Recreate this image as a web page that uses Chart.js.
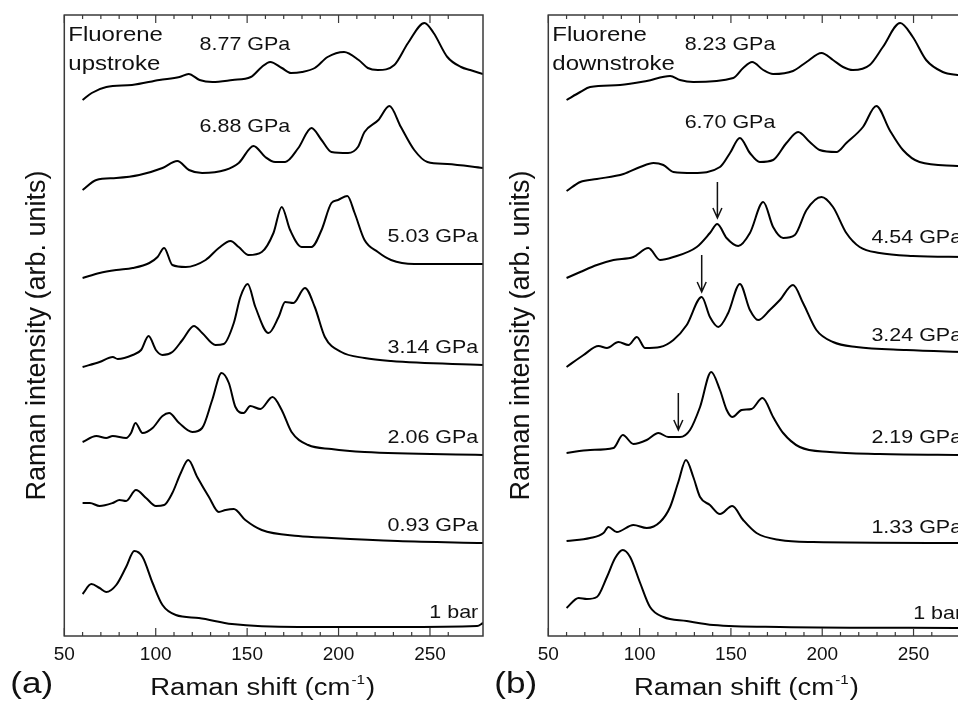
<!DOCTYPE html>
<html>
<head>
<meta charset="utf-8">
<script src="https://cdn.jsdelivr.net/npm/chart.js@4.4.1/dist/chart.umd.min.js"></script>
<style>
  html, body { margin: 0; padding: 0; background: #fff; overflow: hidden; }
  #wrap { position: relative; width: 958px; height: 702px; overflow: hidden; background: #fff; }
  #chartA { position: absolute; left: 0; top: 0; }
  #chartB { position: absolute; left: 480px; top: 0; }
</style>
</head>
<body>
<div id="wrap">
  <canvas id="chartA" width="490" height="702"></canvas>
  <canvas id="chartB" width="495" height="702"></canvas>
</div>
<script>
// ===== x axis (Raman shift, cm-1) =====
const xMin = 50, xMax = 279;
// stacked intensity (arb. units), spectra already offset
const yMin = -1, yMax = 620;

// ===== (a) upstroke spectra: [shift, stacked intensity] =====
const up877 = [[60,535],[65,542],[73,548],[87,550],[102,555],[113,558],[118,561],[124,555],[131,553],[142,555],[152,558],[158,568],[162.6,573],[169,567],[174,562],[180,563],[187,567],[194,578],[203,583],[211,575],[216,567],[221.5,565],[230.5,570],[238,592],[247,612],[252,602],[259.5,578],[267,568],[272,565],[279,561]];
const up688 = [[60,445],[67.5,455],[78.4,457],[91,460],[103.7,467],[111.8,474],[118.2,465],[125.4,462],[138,465],[145.4,472],[153.5,489],[159.9,478],[165.3,473],[170.8,473],[178,487],[185.2,507],[190.7,495],[196.1,483],[205.2,482],[210.6,488],[214.2,503],[221.8,515],[227.8,529],[234.1,508],[241.4,485],[248.6,473],[259.5,471],[279,467]];
const up503 = [[60,357],[69.3,362],[78.4,365],[87.4,367],[96.5,372],[101,378],[104.6,387],[109.1,370],[116.4,368],[127.3,375],[134.5,387],[140.9,394],[145.4,388],[150.8,380],[158,383],[164.4,402],[168.9,428],[173.5,405],[179.8,388],[185.2,388],[190.7,405],[196.1,432],[199.7,435],[204.8,439],[208.8,422],[214.2,395],[221.5,383],[228.7,375],[241.4,371],[279,371]];
const up314 = [[60,268],[69.3,273],[76.5,278],[79.2,276],[87.4,280],[92,285],[96.1,299],[100.1,285],[103.7,280],[109.1,283],[114.6,295],[120.9,309],[125.4,302],[132.7,290],[137.2,291],[142.7,312],[146.3,338],[150.3,351],[154.5,328],[161.7,302],[167.2,318],[170.8,333],[175.3,332],[181.6,347],[187,328],[192.5,298],[201.5,283],[214.2,277],[228.7,274],[279,270]];
const up206 = [[60,193],[67.5,199],[72.9,197],[76.5,199],[83.8,197],[86.5,202],[88.9,212],[92.8,202],[98.3,207],[103.7,219],[107.3,222],[112.8,212],[120,203],[125.4,207],[130.9,235],[136,262],[140,252],[143.6,228],[148.1,222],[151.7,229],[157.2,226],[163.9,238],[168.9,225],[174.3,203],[183.4,190],[196.1,186],[214.2,183],[279,180]];
const up093 = [[60,132],[64,132],[69.3,129],[76.5,132],[80.2,135],[83.8,134],[89.2,145],[94.7,137],[100.1,129],[104.6,130],[109.1,142],[113.7,162],[117.8,175],[122.7,158],[129.1,138],[134.5,123],[138.2,125],[142.7,126],[149,115],[158,105],[178,99],[196.1,97],[232.3,94],[279,92]];
const up1bar = [[60,41],[64.8,51],[69.3,47],[72.9,43],[78.4,50],[83.8,68],[88.3,84],[92.8,78],[98.3,52],[103.7,30],[111,20],[123.6,17],[141.7,11],[178,8],[232.3,8],[275.8,9],[279,12]];
const upLabels = ["8.77 GPa", "6.88 GPa", "5.03 GPa", "3.14 GPa", "2.06 GPa", "0.93 GPa", "1 bar"];

// ===== (b) downstroke spectra =====
const down823 = [[60,535],[67.5,543],[72.9,548],[89.3,550],[103.9,554],[116.7,559],[122.1,555],[129.4,553],[151.3,557],[156.7,567],[161.6,573],[167.7,565],[173.1,561],[184,564],[191.4,573],[199.6,582],[205.9,575],[211.4,568],[216.8,565],[226,570],[233.2,588],[242.7,612],[249.6,598],[256.9,575],[266,563],[274,560],[279,559]];
const down670 = [[60,444],[67.5,453],[76.6,456],[91.2,461],[100.3,468],[107.6,472],[113,470],[118.5,463],[129.4,462],[144,468],[149.5,482],[154.9,497],[160.4,482],[165.8,473],[173.1,475],[180.4,492],[186.8,503],[193.2,493],[198.6,485],[207.8,483],[213.2,492],[222.3,508],[229.6,529],[236.9,505],[244.2,485],[253.3,473],[274,469],[279,468]];
const down454 = [[60,357],[67.5,363],[76.6,370],[85.7,375],[96.6,378],[104.8,387],[111.2,375],[118.5,378],[131.3,388],[138.5,402],[142.5,411],[147.6,397],[154,389],[160.4,402],[167.7,433],[173.1,408],[178.6,397],[185,400],[191.4,425],[199.6,438],[205.9,428],[213.2,402],[220.5,388],[231.4,382],[249.6,379],[279,378]];
const down324 = [[60,268],[69.3,280],[77.5,289],[82.1,287],[88.4,293],[93.9,290],[98.5,298],[103,287],[111.2,288],[118.5,295],[125.8,310],[134,338],[138.5,318],[143.1,308],[148.5,322],[154.9,351],[160.4,325],[164.9,315],[171.3,325],[176.8,335],[184,350],[189.5,332],[196.8,305],[205.9,293],[218.7,288],[246,285],[279,283]];
const down219 = [[60,182],[72.9,185],[85.7,187],[90.8,200],[96.6,191],[103.9,195],[110.3,202],[115.7,198],[122.1,198],[127.6,205],[133.1,228],[139.2,263],[144,245],[147.7,225],[150.7,218],[155.9,225],[161.3,226],[167.3,237],[173.1,218],[178.6,202],[187.7,188],[204.1,183],[231.4,181],[279,180]];
const down133 = [[60,94],[72.9,97],[80.2,102],[82.9,108],[87.5,103],[96.6,110],[103.9,107],[111.2,113],[116.7,128],[121.2,153],[125.4,175],[129.4,158],[133.1,138],[138.5,130],[144,121],[150.7,129],[156.7,115],[164,102],[176.8,95],[195,93],[279,92]];
const down1bar = [[60,27],[66.6,37],[71.1,36],[76.6,38],[82.1,58],[86.6,77],[90.8,85],[94.8,78],[100.3,52],[105.7,28],[113,18],[125.8,14],[140.4,10],[176.8,8],[279,7]];
const downLabels = ["8.23 GPa", "6.70 GPa", "4.54 GPa", "3.24 GPa", "2.19 GPa", "1.33 GPa", "1 bar"];
// new-mode arrows (b): shift position
const arrowShifts = [142.6, 134, 121.2];

const FONT = '"Liberation Sans", Arial, sans-serif';

function drawText(ctx, s, x, y, size, align, sx) {
  ctx.save();
  ctx.font = size + "px " + FONT;
  ctx.textAlign = align;
  ctx.textBaseline = "alphabetic";
  ctx.translate(x, y);
  ctx.scale(sx, 1);
  ctx.fillText(s, 0, 0);
  ctx.restore();
}

// frame, inward ticks, titles, labels, arrows
const decor = {
  id: "decor",
  afterDraw(chart, args, o) {
    const { ctx, chartArea: a, scales: { x, y } } = chart;
    ctx.save();
    ctx.strokeStyle = "#3a3a3a";
    ctx.lineWidth = 1.5;
    ctx.strokeRect(a.left, a.top, a.right - a.left, a.bottom - a.top);

    ctx.beginPath();
    x.ticks.forEach(t => {
      const v = Math.round(t.value);
      if (Math.abs(t.value - v) > 1e-6 || v % 10 !== 0) return;
      const px = x.getPixelForValue(v);
      const len = v % 50 === 0 ? 8 : 4;
      ctx.moveTo(px, a.bottom); ctx.lineTo(px, a.bottom - len);
      ctx.moveTo(px, a.top); ctx.lineTo(px, a.top + len);
    });
    ctx.lineWidth = 1.2;
    ctx.stroke();

    ctx.fillStyle = "#111";
    // spectrum labels
    o.labels.forEach((s, i) => {
      const [vx, vy, al] = o.labelPos[i];
      drawText(ctx, s, x.getPixelForValue(vx), y.getPixelForValue(vy), 19, al, 1.13);
    });
    // sample name
    o.sample.forEach((s, i) => drawText(ctx, s, a.left + 4, a.top + 26 + i * 28.5, 20.5, "left", 1.17));

    // arrows
    ctx.strokeStyle = "#111";
    ctx.lineWidth = 1.5;
    o.arrows.forEach(([vx, y0, y1]) => {
      const px = x.getPixelForValue(vx), p0 = y.getPixelForValue(y0), p1 = y.getPixelForValue(y1);
      ctx.beginPath();
      ctx.moveTo(px, p0); ctx.lineTo(px, p1);
      ctx.moveTo(px - 4.5, p1 - 10); ctx.lineTo(px, p1); ctx.lineTo(px + 4.5, p1 - 10);
      ctx.stroke();
    });

    // y title
    ctx.save();
    ctx.translate(a.left - 19.5, (a.top + a.bottom) / 2 + 10);
    ctx.rotate(-Math.PI / 2);
    ctx.font = "27px " + FONT;
    ctx.textAlign = "center";
    ctx.fillText("Raman intensity (arb. units)", 0, 0);
    ctx.restore();

    // x title with superscript
    const sx = 1.17, base = 695;
    ctx.font = "23.5px " + FONT;
    const w1 = ctx.measureText("Raman shift (cm").width * sx;
    const w3 = ctx.measureText(")").width * sx;
    ctx.font = "13px " + FONT;
    const w2 = ctx.measureText("-1").width * sx + 2;
    let tx = (a.left + a.right) / 2 - 11 - (w1 + w2 + w3) / 2;
    drawText(ctx, "Raman shift (cm", tx, base, 23.5, "left", sx);
    drawText(ctx, "-1", tx + w1 + 1, base - 11, 13, "left", sx);
    drawText(ctx, ")", tx + w1 + w2, base, 23.5, "left", sx);

    // panel letter
    drawText(ctx, o.panel, a.left - 54, 693, 30, "left", 1.17);
    ctx.restore();
  }
};

function makeChart(id, spectra, padLeft, padRight, deco) {
  return new Chart(document.getElementById(id), {
    type: "line",
    data: {
      datasets: spectra.map(s => ({
        data: s.map(([x, y]) => ({ x, y })),
        borderColor: "#000",
        borderWidth: 2,
        pointRadius: 0,
        fill: false,
        cubicInterpolationMode: "monotone"
      }))
    },
    options: {
      responsive: false,
      animation: false,
      events: [],
      layout: { padding: { left: padLeft, right: padRight, top: 15, bottom: 0 } },
      plugins: { legend: { display: false }, tooltip: { enabled: false }, decor: deco },
      scales: {
        x: {
          type: "linear", min: xMin, max: xMax,
          grid: { display: false, drawTicks: false },
          border: { display: false },
          ticks: {
            stepSize: 10, autoSkip: false, maxRotation: 0, padding: 7,
            color: "#111", font: { family: FONT, size: 19 },
            callback: v => (Math.round(v) % 50 === 0 ? Math.round(v) : "")
          },
          afterFit: s => { s.height = 66; }
        },
        y: { display: false, min: yMin, max: yMax }
      }
    },
    plugins: [decor]
  });
}

makeChart("chartA", [up877, up688, up503, up314, up206, up093, up1bar], 64.3, 5.7, {
  labels: upLabels,
  labelPos: [[148.8, 585, "center"], [148.8, 503, "center"], [276.4, 393, "right"], [276.4, 282, "right"],
             [276.4, 192, "right"], [276.4, 104, "right"], [276.4, 17, "right"]],
  sample: ["Fluorene", "upstroke"],
  arrows: [],
  panel: "(a)"
});

makeChart("chartB", [down823, down670, down454, down324, down219, down133, down1bar], 68.3, 8.5, {
  labels: downLabels,
  labelPos: [[149.5, 585, "center"], [149.5, 507, "center"], [276.6, 392, "right"], [276.6, 294, "right"],
             [276.6, 192, "right"], [276.6, 102, "right"], [276.6, 16, "right"]],
  sample: ["Fluorene", "downstroke"],
  arrows: [[arrowShifts[0], 453, 417], [arrowShifts[1], 380, 343], [arrowShifts[2], 242, 205]],
  panel: "(b)"
});
</script>
</body>
</html>
